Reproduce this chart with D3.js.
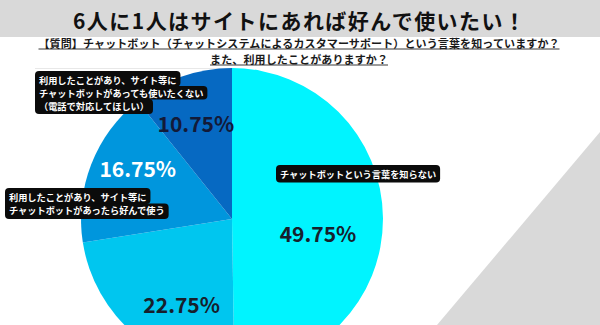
<!DOCTYPE html>
<html>
<head>
<meta charset="utf-8">
<script src="https://cdn.jsdelivr.net/npm/d3@7"></script>
<style>
  body { margin: 0; background: #fff; }
  svg { display: block; }
  text { font-family: "Noto Sans CJK JP", "Noto Sans", sans-serif; }
</style>
</head>
<body>
<svg id="chart" width="600" height="325"></svg>
<script>
// ---- data ----
const titleText = "6人に1人はサイトにあれば好んで使いたい！";
const questionLines = [
  "【質問】チャットボット（チャットシステムによるカスタマーサポート）という言葉を知っていますか？",
  "また、利用したことがありますか？"
];
const values = [49.75, 22.75, 16.75, 10.75];
const categoryLines = [
  ["チャットボットという言葉を知らない"],
  null,
  ["利用したことがあり、サイト等に", "チャットボットがあったら好んで使う"],
  ["利用したことがあり、サイト等に", "チャットボットがあっても使いたくない", "（電話で対応してほしい）"]
];

// ---- styling / layout ----
const sliceColors = ["#00f4ff", "#00c6ef", "#0096dd", "#0669c2"];
const valueColors = ["#17202c", "#17202c", "#ffffff", "#131a38"];
const valueNudge = [[-14, 15], [14, 8], [-1, -15], [-3, -2]];
const calloutAnchor = [[276, 165, 13.5], null, [5, 188, 13.5], [35, 71, 13]];

const W = 600, H = 325;
const svg = d3.select("#chart");

// decorative grey wedge in the lower right corner
svg.append("path")
  .attr("d", "M600,132 L437,325 L600,325 Z")
  .attr("fill", "#d9d9d9");

// faint frame line behind the pie
svg.append("line")
  .attr("x1", 35).attr("x2", 232).attr("y1", 68.5).attr("y2", 68.5)
  .attr("stroke", "#e8e8e8").attr("stroke-width", 1);

// title band
svg.append("rect").attr("x", 0).attr("y", 0).attr("width", W).attr("height", 37)
  .attr("fill", "#d9d9d9");
svg.append("text")
  .attr("x", 299).attr("y", 20)
  .attr("text-anchor", "middle").attr("dominant-baseline", "central")
  .attr("font-size", 21).attr("font-weight", 700).attr("fill", "#111")
  .attr("textLength", 452).attr("lengthAdjust", "spacing")
  .text(titleText);

// question, underlined
const qY = [43, 59];
const qLen = [521, 178];
questionLines.forEach((q, i) => {
  svg.append("text")
    .attr("x", 299).attr("y", qY[i])
    .attr("text-anchor", "middle").attr("dominant-baseline", "central")
    .attr("font-size", 11).attr("font-weight", 700).attr("fill", "#1a1a1a")
    .attr("textLength", qLen[i]).attr("lengthAdjust", "spacing")
    .text(q);
  svg.append("line")
    .attr("x1", 299 - qLen[i] / 2).attr("x2", 299 + qLen[i] / 2)
    .attr("y1", qY[i] + 6).attr("y2", qY[i] + 6)
    .attr("stroke", "#222").attr("stroke-width", 0.9);
});

// ---- pie ----
const cx = 232, cy = 219, R = 151;
const pie = d3.pie().sort(null).value(d => d)
  .startAngle(0).endAngle(2 * Math.PI);
const arcs = pie(values);
const arc = d3.arc().innerRadius(0).outerRadius(R);
const labelArc = d3.arc().innerRadius(100).outerRadius(100);

const g = svg.append("g").attr("transform", `translate(${cx},${cy})`);
g.selectAll("path.slice")
  .data(arcs)
  .join("path")
  .attr("class", "slice")
  .attr("d", arc)
  .attr("fill", (d, i) => sliceColors[i]);

// percentage labels
g.selectAll("text.value")
  .data(arcs)
  .join("text")
  .attr("class", "value")
  .attr("x", (d, i) => labelArc.centroid(d)[0] + valueNudge[i][0])
  .attr("y", (d, i) => labelArc.centroid(d)[1] + valueNudge[i][1])
  .attr("text-anchor", "middle").attr("dominant-baseline", "central")
  .attr("font-size", 21).attr("font-weight", 700)
  .attr("fill", (d, i) => valueColors[i])
  .text(d => d3.format(".2f")(d.data) + "%");

// ---- category callouts: black rounded boxes, one band per text line ----
const padX = 4, padY = 2, fs = 9.2;
categoryLines.forEach((lines, k) => {
  if (!lines) return;
  const [bx, by, lh] = calloutAnchor[k];
  const cg = svg.append("g");
  const n = lines.length;
  const bandLayer = cg.append("g");
  const texts = lines.map((s, i) =>
    cg.append("text")
      .attr("x", bx + padX)
      .attr("y", by + padY + lh * (i + 0.5))
      .attr("dominant-baseline", "central")
      .attr("font-size", fs).attr("font-weight", 700).attr("fill", "#fff")
      .text(s)
  );
  texts.forEach((t, i) => {
    const w = t.node().getComputedTextLength() + padX * 2;
    const y0 = i === 0 ? by : by + padY + lh * i;
    const h = lh + (i === 0 ? padY : 0) + (i === n - 1 ? padY : 0.5);
    bandLayer.append("rect")
      .attr("x", bx).attr("y", y0).attr("width", w).attr("height", h)
      .attr("rx", 4).attr("fill", "#0b0b0b");
  });
  // fill the left edge so the stacked bands read as one box
  if (n > 1) {
    bandLayer.append("rect")
      .attr("x", bx).attr("y", by + 4).attr("width", 8)
      .attr("height", padY * 2 + lh * n - 8).attr("fill", "#0b0b0b");
  }
});
</script>
</body>
</html>
